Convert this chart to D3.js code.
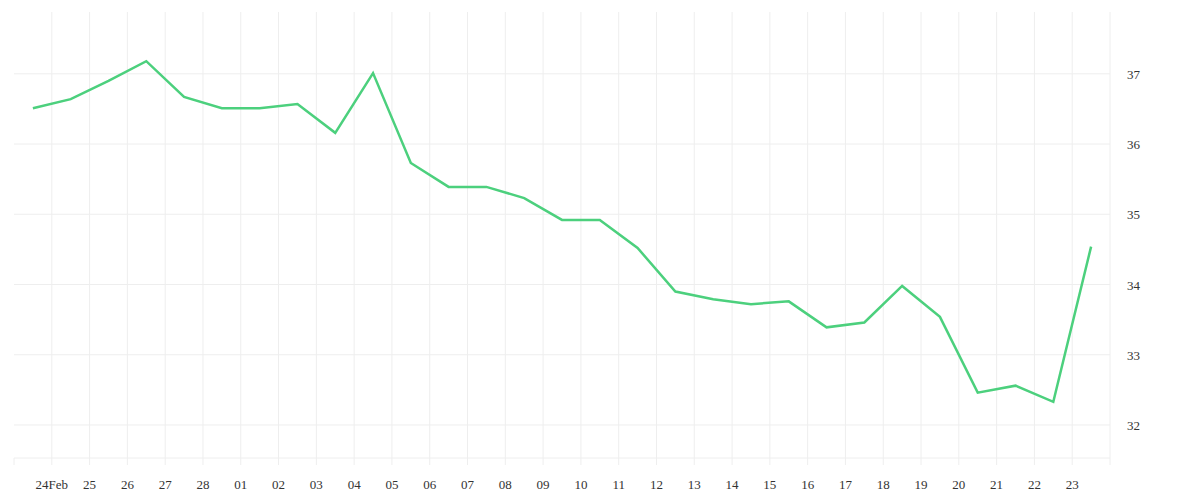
<!DOCTYPE html>
<html>
<head>
<meta charset="utf-8">
<script src="https://cdn.jsdelivr.net/npm/d3@7"></script>
<style>
  body { margin: 0; background: #fff; }
  text { font-family: "Liberation Serif", serif; font-size: 13px; fill: #333; }
</style>
</head>
<body>
<script>
// data: daily values, sampled at noon
var startDay = "2021-02-23";
var values = [36.51, 36.64, 36.9, 37.18, 36.67, 36.51, 36.51, 36.57, 36.16, 37.01,
              35.73, 35.39, 35.39, 35.23, 34.92, 34.92, 34.52, 33.9, 33.79, 33.72,
              33.76, 33.39, 33.46, 33.98, 33.54, 32.46, 32.56, 32.33, 34.54];
var yTicks = [32, 33, 34, 35, 36, 37];

(function(){
var width = 1200, height = 500,
    padLeft = 14, padRight = 1110, padTop = 12, padBottom = 458;

var parse = d3.utcParse("%Y-%m-%d");
var t0 = parse(startDay);
var points = values.map(function(v, i){
    return { date: new Date(t0.getTime() + (i + 0.5) * 864e5), value: v };
});

var x = d3.scaleUtc()
    .domain([t0, new Date(t0.getTime() + 29 * 864e5)])
    .range([padLeft, padRight]);
var y = d3.scaleLinear().domain([31.53, 37.88]).range([padBottom, padTop]);

var svg = d3.select("body").append("svg")
    .attr("width", width).attr("height", height);

var days = d3.utcDay.range(new Date(t0.getTime() + 864e5), new Date(t0.getTime() + 29 * 864e5 + 1));

//vertical grid
svg.selectAll(".vgrid").data(days).enter().append("line")
    .attr("x1", function(d){ return x(d); }).attr("x2", function(d){ return x(d); })
    .attr("y1", padTop).attr("y2", padBottom + 7)
    .attr("stroke", "#eeeeee");

//horizontal grid
svg.selectAll(".hgrid").data(yTicks).enter().append("line")
    .attr("x1", padLeft).attr("x2", padRight)
    .attr("y1", function(d){ return y(d); }).attr("y2", function(d){ return y(d); })
    .attr("stroke", "#eeeeee");
svg.append("line").attr("x1", padLeft).attr("x2", padRight)
    .attr("y1", padBottom).attr("y2", padBottom).attr("stroke", "#eeeeee");
svg.append("line").attr("x1", padLeft).attr("x2", padLeft)
    .attr("y1", padBottom).attr("y2", padBottom + 7).attr("stroke", "#eeeeee");

//x labels
var fmt = d3.utcFormat("%d");
svg.selectAll(".xl").data(days.slice(0, 28)).enter().append("text")
    .attr("x", function(d){ return x(d); })
    .attr("y", 489)
    .attr("text-anchor", "middle")
    .text(function(d, i){ return i === 0 ? fmt(d) + "Feb" : fmt(d); });

//y labels
svg.selectAll(".yl").data(yTicks).enter().append("text")
    .attr("x", 1127).attr("y", function(d){ return y(d) + 5; })
    .text(function(d){ return d; });

//line
var line = d3.line()
    .x(function(d){ return x(d.date); })
    .y(function(d){ return y(d.value); });
svg.append("path").datum(points)
    .attr("d", line)
    .attr("fill", "none")
    .attr("stroke", "#4cd07d")
    .attr("stroke-width", 2.5);
})();
</script>
</body>
</html>
